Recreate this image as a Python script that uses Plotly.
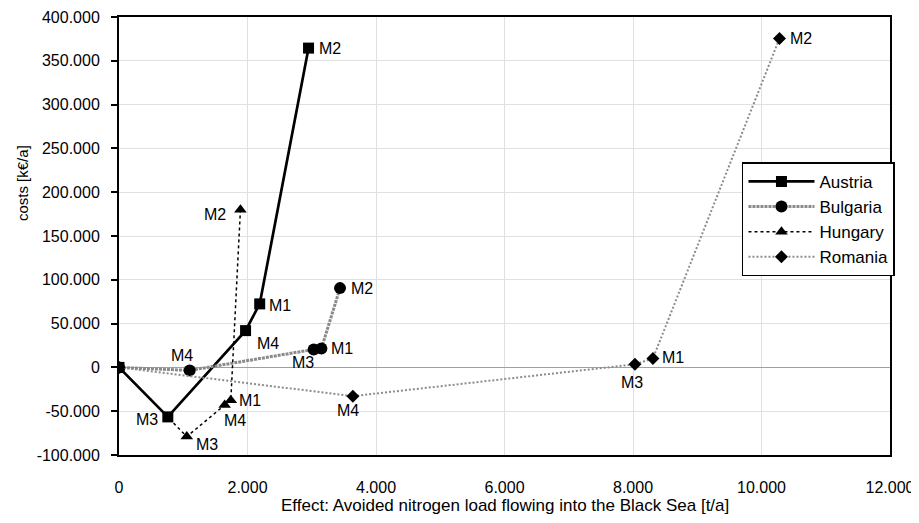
import plotly.graph_objects as go

# ---- data (x: avoided N load [t/a], y: costs [k€/a]) ----
austria_x = [0, 760, 1970, 2190, 2950]
austria_y = [0, -56500, 42000, 72500, 364500]
austria_lbl = ["", "M3", "M4", "M1", "M2"]

bulgaria_x = [0, 1100, 3030, 3150, 3440]
bulgaria_y = [0, -3400, 20500, 21500, 90500]
bulgaria_lbl = ["", "M4", "M3", "M1", "M2"]

hungary_x = [0, 1055, 1645, 1740, 1890]
hungary_y = [0, -79000, -43000, -37500, 180000]
hungary_lbl = ["", "M3", "M4", "M1", "M2"]

romania_x = [0, 3640, 8030, 8310, 10280]
romania_y = [0, -32800, 3500, 10200, 375500]
romania_lbl = ["", "M4", "M3", "M1", "M2"]

x_ticks = [0, 2000, 4000, 6000, 8000, 10000, 12000]
y_ticks = [-100000, -50000, 0, 50000, 100000, 150000, 200000, 250000, 300000, 350000, 400000]


def fmt(v):
    return f"{v:,}".replace(",", ".")


# ---- styles / label offsets (pixels) ----
FONT = "Liberation Sans, Arial, sans-serif"
offsets = {
    "Austria": [None, (-21, -3), (22, -13), (20, -2), (21, 0)],
    "Bulgaria": [None, (-8, 15), (-11, -13), (21, 0), (22, 0)],
    "Hungary": [None, (20, -8), (10, -15), (19, 0), (-25, -5)],
    "Romania": [None, (-5, -14), (-3, -18), (20, 1), (22, 0)],
}

series = [
    ("Austria", austria_x, austria_y, austria_lbl,
     dict(color="black", width=2.7, dash="solid"), dict(symbol="square", size=11)),
    ("Bulgaria", bulgaria_x, bulgaria_y, bulgaria_lbl,
     dict(color="#8a8a8a", width=3, dash="3px,1px"), dict(symbol="circle", size=12)),
    ("Hungary", hungary_x, hungary_y, hungary_lbl,
     dict(color="black", width=1.5, dash="dot"), dict(symbol="triangle-up", size=11)),
    ("Romania", romania_x, romania_y, romania_lbl,
     dict(color="#8c8c8c", width=2, dash="2px,2px"), dict(symbol="diamond", size=10)),
]

fig = go.Figure()
annotations = []
for name, xs, ys, lbls, line, marker in series:
    fig.add_trace(go.Scatter(
        x=xs, y=ys, name=name, mode="lines+markers",
        line=line, marker=dict(color="black", **marker),
    ))
    for i, (xv, yv, t) in enumerate(zip(xs, ys, lbls)):
        if not t:
            continue
        dx, dy = offsets[name][i]
        annotations.append(dict(
            x=xv, y=yv, xref="x", yref="y", text=t, showarrow=False,
            xanchor="center", yanchor="middle", xshift=dx, yshift=dy,
            font=dict(family=FONT, size=16, color="black"),
        ))

annotations.append(dict(
    text="Effect: Avoided nitrogen load flowing into the Black Sea [t/a]",
    xref="paper", yref="paper", x=0.5, y=-0.115, showarrow=False,
    xanchor="center", yanchor="middle",
    font=dict(family=FONT, size=17, color="black"),
))
annotations.append(dict(
    text="costs [k€/a]", textangle=-90,
    xref="paper", yref="paper", x=-0.125, y=0.62, showarrow=False,
    xanchor="center", yanchor="middle",
    font=dict(family=FONT, size=15, color="black"),
))

# page body adds an 8px offset; margins compensate so the plot box lands
# at the reference position
fig.update_layout(
    width=919, height=523,
    margin=dict(l=111, r=37, t=9, b=76),
    paper_bgcolor="white", plot_bgcolor="white",
    font=dict(family=FONT, size=16, color="black"),
    showlegend=True,
    legend=dict(
        x=0.808, y=0.668, xanchor="left", yanchor="top",
        bgcolor="white", bordercolor="black", borderwidth=1.5,
        font=dict(family=FONT, size=17, color="black"),
        tracegroupgap=0, itemwidth=66,
    ),
    annotations=annotations,
)
fig.update_xaxes(
    range=[0, 12000], tickvals=x_ticks, ticktext=[fmt(v) for v in x_ticks],
    showgrid=True, gridcolor="#e0e0e0", gridwidth=1, automargin=False,
    zeroline=False, showline=True, linecolor="black", linewidth=2, mirror=True,
    ticks="", ticklabelstandoff=17, ticklabeloverflow="allow",
    tickfont=dict(family=FONT, size=16, color="black"),
)
fig.update_yaxes(
    range=[-100000, 400000], tickvals=y_ticks, ticktext=[fmt(v) for v in y_ticks],
    showgrid=True, gridcolor="#e0e0e0", gridwidth=1, automargin=False,
    zeroline=True, zerolinecolor="#a0a0a0", zerolinewidth=1,
    showline=True, linecolor="black", linewidth=2, mirror=True,
    ticks="outside", ticklen=6, tickcolor="black", tickwidth=1.5,
    ticklabelstandoff=8, ticklabeloverflow="allow",
    tickfont=dict(family=FONT, size=16, color="black"),
)

fig.write_html("out.html")
